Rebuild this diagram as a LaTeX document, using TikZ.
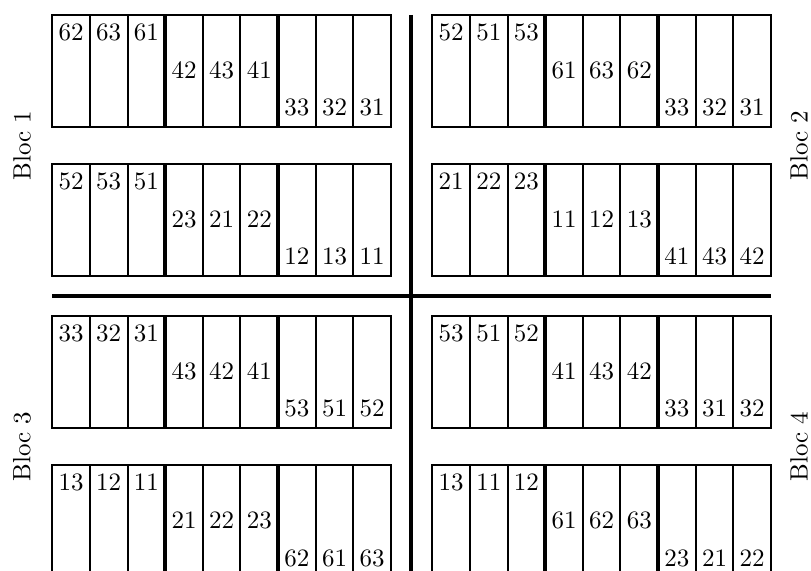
\documentclass[tikz,border=0pt]{standalone}
\usepackage{tikz}
\definecolor{BlocInk}{HTML}{000000}
\begin{document}
\begin{tikzpicture}[x=0.4pt,y=-0.4pt]
  \useasboundingbox (0,0) rectangle (811,571);
  \clip (0,0) rectangle (811,571);
  % allees
  \draw[BlocInk,line width=1.6pt] (52.3,295.7) -- (771,295.7);
  \draw[BlocInk,line width=1.6pt] (410.7,15) -- (410.7,580);
  \foreach \x/\y/\r/\v in {
    52.3/15/1a/{62,63,61,42,43,41,33,32,31},
    52.3/164/1b/{52,53,51,23,21,22,12,13,11},
    432.3/15/2a/{52,51,53,61,63,62,33,32,31},
    432.3/164/2b/{21,22,23,11,12,13,41,43,42},
    52.3/315.7/3a/{33,32,31,43,42,41,53,51,52},
    52.3/465/3b/{13,12,11,21,22,23,62,61,63},
    432.3/315.7/4a/{53,51,52,41,43,42,33,31,32},
    432.3/465/4b/{13,11,12,61,62,63,23,21,22}} {
    \draw[BlocInk,line width=0.8pt] (\x,\y) rectangle +(338.7,112.3);
    \foreach \i in {1,2,4,5,7,8}
      \draw[BlocInk,line width=0.8pt] ({\x+\i*37.63},\y) -- +(0,112.3);
    \foreach \i in {3,6}
      \draw[BlocInk,line width=1.6pt] ({\x+\i*37.63},\y) -- +(0,112.3);
    \foreach \n [count=\i from 0] in \v {
      \pgfmathtruncatemacro{\g}{(\i+0.5)/3}
      \node[anchor=base,text=BlocInk] (p\r-\i) at ({\x+(\i+0.5)*37.63},{\y+25.8+\g*37.6}) {\n};
    }
  }
  \node[rotate=90,text=BlocInk] (bloc1) at (22,145.5) {Bloc 1};
  \node[rotate=90,text=BlocInk] (bloc2) at (799,145.5) {Bloc 2};
  \node[rotate=90,text=BlocInk] (bloc3) at (22,446.5) {Bloc 3};
  \node[rotate=90,text=BlocInk] (bloc4) at (799,446.5) {Bloc 4};
\end{tikzpicture}
\end{document}
